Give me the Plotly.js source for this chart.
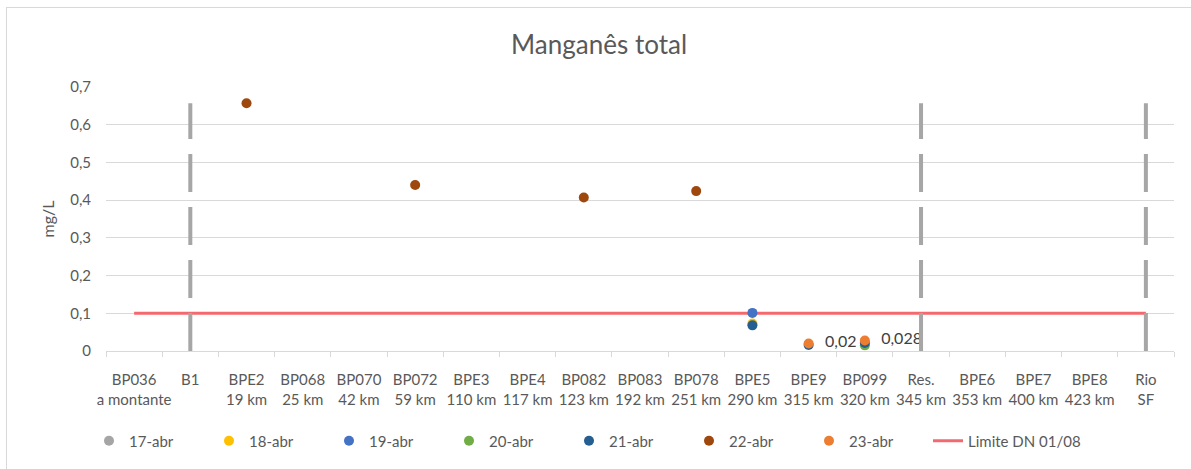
<!DOCTYPE html>
<html>
<head>
<meta charset="utf-8">
<script src="https://cdn.plot.ly/plotly-3.0.1.min.js"></script>
<style>
  html, body { margin: 0; padding: 0; background: #ffffff; }
  #chart { width: 1191px; height: 469px; position: relative; }
  #frame { position: absolute; left: 6px; top: 7px; right: 0; bottom: 0;
           border-left: 1px solid #d9d9d9; border-top: 1px solid #d9d9d9; pointer-events: none; }
</style>
</head>
<body>
<div style="position:relative;width:1191px;height:469px;">
  <div id="chart"></div>
  <div id="frame"></div>
</div>
<script>
// ---- data ----
const categories = [
  'BP036<br>a montante', 'B1', 'BPE2<br>19 km', 'BP068<br>25 km', 'BP070<br>42 km',
  'BP072<br>59 km', 'BPE3<br>110 km', 'BPE4<br>117 km', 'BP082<br>123 km', 'BP083<br>192 km',
  'BP078<br>251 km', 'BPE5<br>290 km', 'BPE9<br>315 km', 'BP099<br>320 km', 'Res.<br>345 km',
  'BPE6<br>353 km', 'BPE7<br>400 km', 'BPE8<br>423 km', 'Rio<br>SF'
];
const seriesNames = ['17-abr', '18-abr', '19-abr', '20-abr', '21-abr', '22-abr', '23-abr'];
const s17 = { x: [], y: [] };
const s18 = { x: ['BPE5<br>290 km'], y: [0.073] };
const s19 = { x: ['BPE5<br>290 km'], y: [0.101] };
const s20 = { x: ['BP099<br>320 km'], y: [0.015] };
const s21 = { x: ['BPE5<br>290 km', 'BPE9<br>315 km', 'BP099<br>320 km'], y: [0.068, 0.016, 0.021] };
const s22 = { x: ['BPE2<br>19 km', 'BP072<br>59 km', 'BP082<br>123 km', 'BP078<br>251 km'], y: [0.657, 0.440, 0.407, 0.424] };
const s23 = { x: ['BPE9<br>315 km', 'BP099<br>320 km'], y: [0.020, 0.028] };
const labels23 = ['0,02', '0,028'];
const limitName = 'Limite DN 01/08';
const limitValue = 0.1;
const separatorCats = ['B1', 'Res.<br>345 km', 'Rio<br>SF'];
const separatorTop = 0.657;
const yTicks = [0, 0.1, 0.2, 0.3, 0.4, 0.5, 0.6, 0.7];

// ---- styles ----
const colors = ['#a5a5a5', '#ffc000', '#4472c4', '#70ad47', '#255e91', '#9e480e', '#ed7d31'];
const font = 'Lato, "Open Sans", sans-serif';
const textColor = '#595959';
const plotL = 106, plotW = 1068;
const px2paper = p => (p - plotL) / plotW;

const traces = [];
// data labels (drawn first so markers sit above)
traces.push({
  type: 'scatter', mode: 'text', x: s23.x, y: s23.y, text: labels23,
  texttemplate: '\u00a0\u00a0\u00a0\u00a0%{text}',
  textposition: 'middle right', textfont: { family: font, size: 16, color: '#404040' },
  showlegend: false, hoverinfo: 'skip', cliponaxis: false
});
// limit line
traces.push({
  type: 'scatter', mode: 'lines', name: limitName, legend: 'legend2',
  x: categories, y: categories.map(() => limitValue),
  line: { color: '#f4696d', width: 3 }
});
// separators
separatorCats.forEach(c => {
  traces.push({
    type: 'scatter', mode: 'lines', x: [c, c], y: [0, separatorTop],
    line: { color: '#a6a6a6', width: 4, dash: '38px,15px' },
    showlegend: false, hoverinfo: 'skip'
  });
});
[s17, s18, s19, s20, s21, s22, s23].forEach((s, i) => {
  traces.push({
    type: 'scatter', mode: 'markers', name: seriesNames[i],
    x: s.x.length ? s.x : [null], y: s.y.length ? s.y : [null],
    marker: { color: colors[i], size: 10 }, legendrank: i + 1
  });
});

const legendFont = { family: font, size: 15, color: textColor };
const layout = {
  width: 1191, height: 469,
  paper_bgcolor: 'rgba(0,0,0,0)', plot_bgcolor: '#ffffff',
  separators: ',.',
  margin: { l: 106, r: 17, t: 87, b: 118 },
  title: {
    text: 'Manganês total', x: 0.503, xref: 'container', xanchor: 'center',
    y: 0.905, yref: 'container', yanchor: 'middle',
    font: { family: font, size: 26, color: textColor }
  },
  xaxis: {
    type: 'category', categoryorder: 'array', categoryarray: categories,
    range: [-0.5, categories.length - 0.5],
    showgrid: false, showline: true, linecolor: '#d9d9d9', linewidth: 1,
    ticks: 'outside', tickson: 'boundaries', ticklen: 5, tickcolor: '#d9d9d9',
    tickangle: 0, tickfont: { family: font, size: 15, color: textColor },
    ticklabelstandoff: 15, zeroline: false
  },
  yaxis: {
    range: [0, 0.7], tickvals: yTicks, ticks: '',
    showgrid: true, gridcolor: '#d9d9d9', gridwidth: 1, zeroline: false,
    tickfont: { family: font, size: 15, color: textColor },
    ticklabelstandoff: 14,
    title: { text: 'mg/L', font: { family: font, size: 16, color: textColor }, standoff: 11 }
  },
  legend: {
    orientation: 'h', x: px2paper(89), xanchor: 'left', y: -0.341, yanchor: 'middle',
    font: legendFont, entrywidth: 75,
    traceorder: 'normal', bgcolor: 'rgba(0,0,0,0)'
  },
  legend2: {
    orientation: 'h', x: px2paper(928), xanchor: 'left', y: -0.341, yanchor: 'middle',
    font: legendFont, bgcolor: 'rgba(0,0,0,0)'
  },
  showlegend: true
};

Plotly.newPlot('chart', traces, layout, { displayModeBar: false, staticPlot: true });
</script>
</body>
</html>
